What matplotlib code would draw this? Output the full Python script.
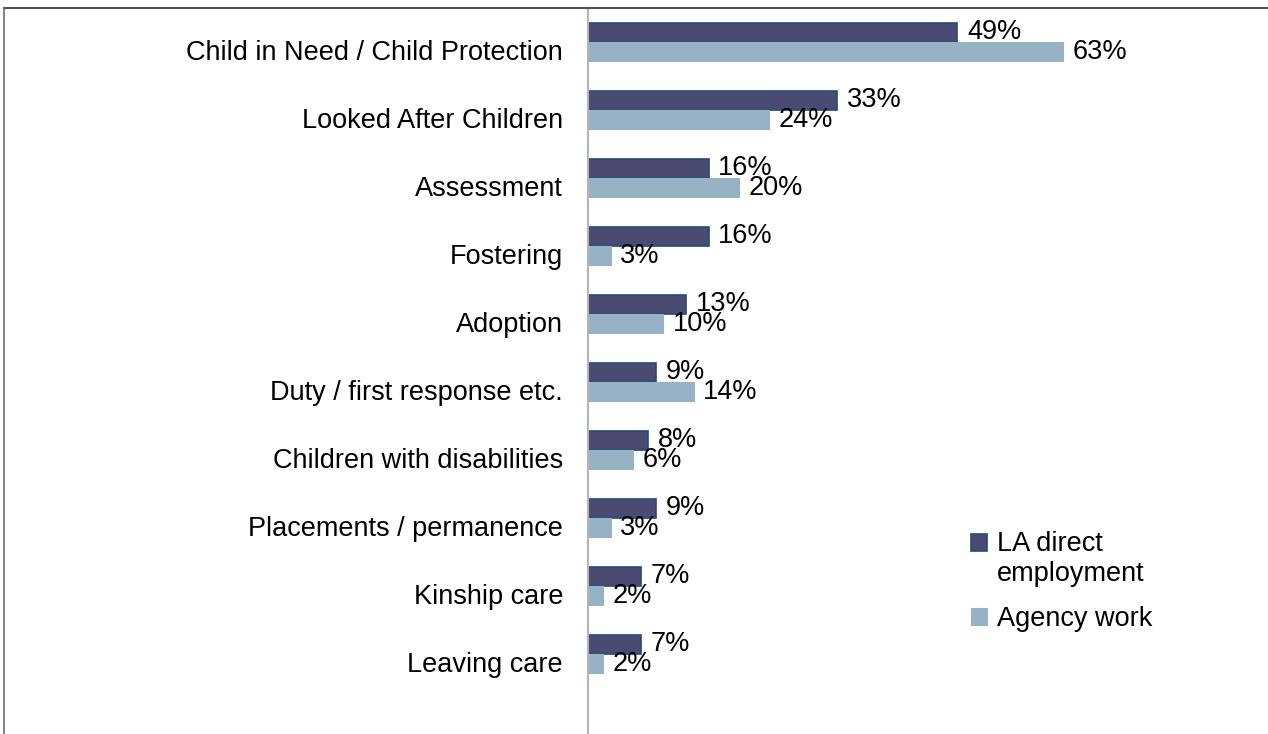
import matplotlib.pyplot as plt
import matplotlib.transforms as mtransforms
import numpy as np

plt.rcParams['font.family'] = ['Liberation Sans', 'DejaVu Sans']

categories = ['Child in Need / Child Protection', 'Looked After Children', 'Assessment',
              'Fostering', 'Adoption', 'Duty / first response etc.',
              'Children with disabilities', 'Placements / permanence',
              'Kinship care', 'Leaving care']
la_direct = [49, 33, 16, 16, 13, 9, 8, 9, 7, 7]
agency = [63, 24, 20, 3, 10, 14, 6, 3, 2, 2]

dark = '#4a4a72'
light = '#98b2c5'
fs = 19.5

fig = plt.figure(figsize=(12.68, 7.34), dpi=100)
ax = fig.add_axes([588 / 1268, 0, (1268 - 588) / 1268, 1 - 8 / 734])

y = np.arange(len(categories))
h = 0.285
ax.barh(y - h / 2, la_direct, height=h, color=dark, edgecolor='#1f4e79', linewidth=1.2,
        label='LA direct\nemployment')
ax.barh(y + h / 2, agency, height=h, color=light, edgecolor=light, linewidth=0.8,
        label='Agency work')

for i in range(len(categories)):
    ax.annotate(f'{la_direct[i]}%', (la_direct[i], y[i] - h / 2), xytext=(7, 0),
                textcoords='offset points', fontsize=fs, va='center', ha='left')
    ax.annotate(f'{agency[i]}%', (agency[i], y[i] + h / 2), xytext=(7, 0),
                textcoords='offset points', fontsize=fs, va='center', ha='left')

ax.set_xlim(0, (1268 - 588) / 7.54)
ax.set_ylim((734 - 42) / 68, -0.5)
ax.set_yticks(y)
ax.set_yticklabels(categories, fontsize=fs)
ax.tick_params(axis='y', length=0, pad=18)
shift = mtransforms.ScaledTranslation(0, -8 / 100, fig.dpi_scale_trans)
for lab in ax.get_yticklabels():
    lab.set_transform(lab.get_transform() + shift)
ax.set_xticks([])
for s in ['top', 'right', 'bottom']:
    ax.spines[s].set_visible(False)
ax.spines['left'].set_color('#b4b4b4')
ax.spines['left'].set_linewidth(1.5)

leg = ax.legend(loc='upper left', bbox_to_anchor=(960 / 1268, 1 - 520 / 734),
                bbox_transform=fig.transFigure, frameon=False, fontsize=fs,
                handlelength=0.6, handleheight=0.6, handletextpad=0.35, labelspacing=0.7,
                borderaxespad=0)
# put the first square next to the first line of its two-line label
h0 = leg.legend_handles[0]
h0.set_y(h0.get_y() + 12)

# outer frame: top and left edges show in the picture
fig.add_artist(plt.Line2D([4 / 1268, 1], [1 - 8 / 734, 1 - 8 / 734], transform=fig.transFigure,
                          color='#505050', linewidth=1.5))
fig.add_artist(plt.Line2D([4 / 1268, 4 / 1268], [0, 1 - 8 / 734], transform=fig.transFigure,
                          color='#707070', linewidth=1.2))

plt.savefig('out.png')
